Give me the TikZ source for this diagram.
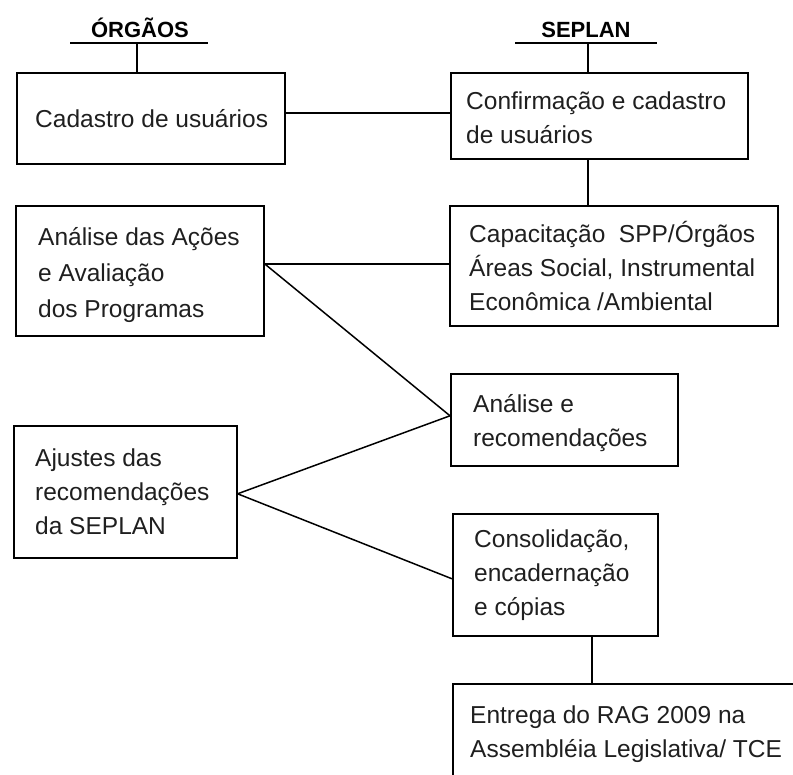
\documentclass[tikz,border=0pt]{standalone}
\usepackage{fontspec}
\setmainfont{Liberation Sans}
\begin{document}
\begin{tikzpicture}[x=1pt,y=-1pt,
  box/.style={draw,line width=1.6pt,anchor=north west,inner sep=0pt},
  txt/.style={anchor=west,align=left,inner sep=0pt,text=black!88,font=\fontsize{24.5}{34}\selectfont},
  head/.style={anchor=base,inner sep=0pt,font=\bfseries\fontsize{22}{22}\selectfont},
  conn/.style={line width=1.5pt}]
\useasboundingbox (0,0) rectangle (793,775);
\clip (0,0) rectangle (793,775);
% headings
\node[head] (h1) at (140,38) {ÓRGÃOS};
\node[head] (h2) at (586,38) {SEPLAN};
\coordinate (h1u) at (137,43);
\coordinate (h2u) at (588,43);
\coordinate (c78) at (592,0);
\draw[conn] (70,43) -- (208,43);
\draw[conn] (515,43) -- (657,43);
% boxes
\node[box,minimum width=268pt,minimum height=91pt] (b1) at (16,72) {};
\node[box,minimum width=297pt,minimum height=86pt] (b2) at (450,72) {};
\node[box,minimum width=248pt,minimum height=130pt] (b3) at (15,205) {};
\node[box,minimum width=328pt,minimum height=120pt] (b4) at (449,205) {};
\node[box,minimum width=227pt,minimum height=92pt] (b5) at (450,373) {};
\node[box,minimum width=223pt,minimum height=132pt] (b6) at (13,425) {};
\node[box,minimum width=205pt,minimum height=122pt] (b7) at (452,513) {};
\node[box,minimum width=420pt,minimum height=150pt] (b8) at (452,683) {};
% texts
\node[txt] (t1) at ([xshift=19pt]b1.west) {Cadastro de usuários};
\node[txt] (t2) at ([xshift=16pt,yshift=-2pt]b2.west) {Confirmação e cadastro\\de usuários};
\node[txt,font=\fontsize{24.5}{36}\selectfont] (t3) at ([xshift=23pt,yshift=-4pt]b3.west) {Análise das Ações\\e Avaliação\\dos Programas};
\node[txt] (t4) at ([xshift=20pt]b4.west) {Capacitação\ \ SPP/Órgãos\\Áreas Social, Instrumental\\Econômica /Ambiental};
\node[txt] (t5) at ([xshift=23pt,yshift=-3pt]b5.west) {Análise e\\recomendações};
\node[txt] (t6) at ([xshift=22pt]b6.west) {Ajustes das\\recomendações\\da SEPLAN};
\node[txt] (t7) at ([xshift=22pt]b7.west) {Consolidação,\\encadernação\\e cópias};
\node[txt,anchor=north west] (t8) at (470,706) {Entrega do RAG 2009 na\\Assembléia Legislativa/ TCE};
% connectors
\draw[conn] (h1u) -- (h1u |- b1.north);
\draw[conn] (h2u) -- (h2u |- b2.north);
\draw[conn] ([yshift=3pt]b2.west -| b1.east) -- ([yshift=3pt]b2.west);
\draw[conn] (b2.south -| h2u) -- (b4.north -| h2u);
\draw[conn] ([yshift=2pt]b4.west -| b3.east) -- ([yshift=2pt]b4.west);
\draw[conn] ([yshift=2pt]b4.west -| b3.east) -- ([yshift=4pt]b5.west);
\draw[conn] ([yshift=-2pt]b6.east) -- ([yshift=4pt]b5.west);
\draw[conn] ([yshift=-2pt]b6.east) -- ([yshift=-4pt]b7.west);
\draw[conn] (b7.south -| c78) -- (b8.north -| c78);
\end{tikzpicture}
\end{document}
